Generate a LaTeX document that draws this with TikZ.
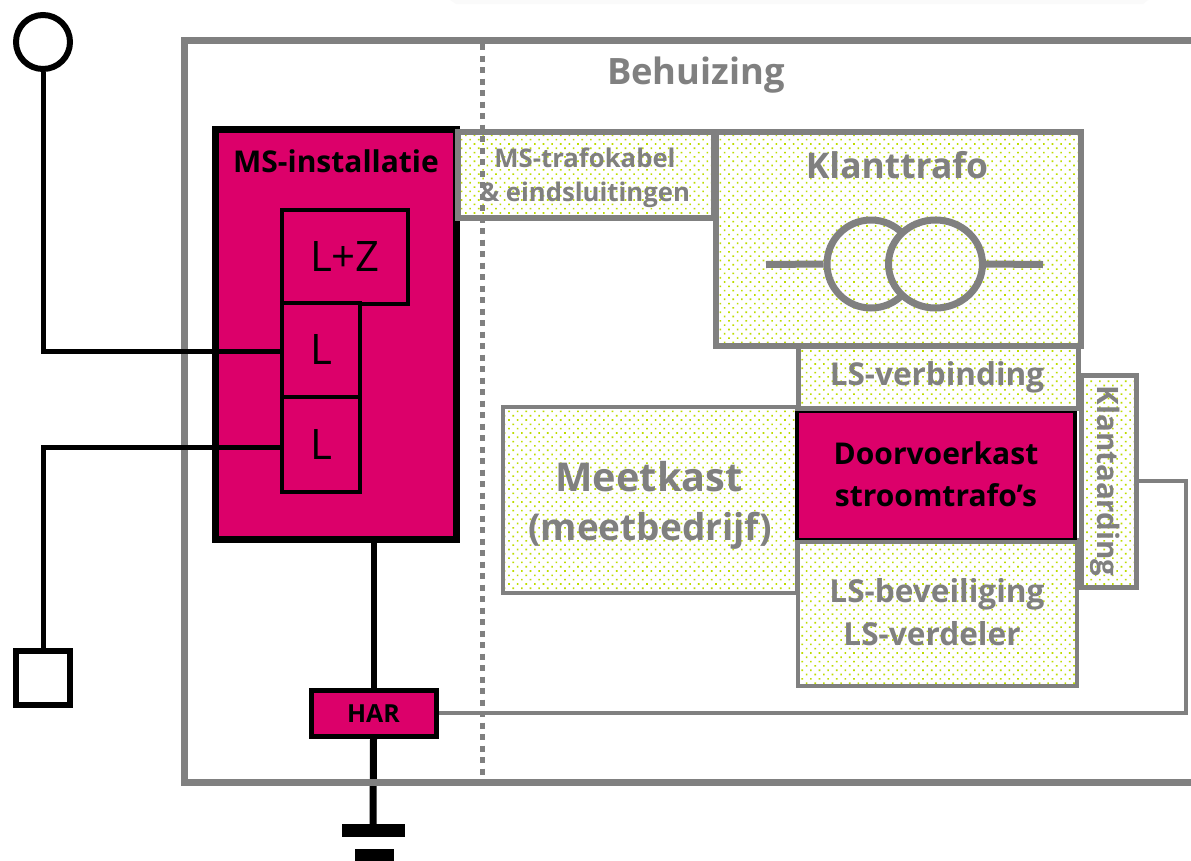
\documentclass[tikz,border=0pt]{standalone}
\usepackage{fontspec}
\setmainfont{Open Sans}
\usetikzlibrary{patterns.meta,shapes.geometric}
\definecolor{pk}{HTML}{DC006A}
\definecolor{gy}{HTML}{808080}
\definecolor{dt}{HTML}{BEDC00}
\tikzset{
 x=1pt,y=-1pt,
 wire/.style={draw=black,line width=5pt,line join=miter},
 gwire/.style={draw=gy,line width=4pt},
 dotbox/.style={draw=gy,line width=5pt,preaction={fill=white},pattern={Dots[distance=6.1pt,angle=45,radius=1.15pt]},pattern color=dt},
 pinkbox/.style={draw=black,fill=pk,line width=4pt},
 lab/.style={font=\bfseries,text=gy,align=center,inner sep=0pt},
 blab/.style={font=\bfseries,text=black,align=center,inner sep=0pt},
}
\begin{document}
\begin{tikzpicture}
\useasboundingbox (0,0) rectangle (1191,860);
\fill[fill=white] (0,0) rectangle (1191,860);
\fill[fill=black!2!white] (450,0) -- (1148,0) -- (1143,4) -- (456,4) -- cycle;
% housing
\draw[draw=gy,line width=7pt] (1195,40) -- (184,40) -- (184,782) -- (1195,782);
\node[lab,font=\bfseries\fontsize{36.3}{40}\selectfont] (beh) at (696,75) {Behuizing};
% mains wires
\node[draw=black,line width=6pt,circle,minimum size=54pt,inner sep=0pt] (top) at (43,42) {};
\node[draw=black,line width=6pt,minimum size=54pt,inner sep=0pt] (sq) at (43,678) {};
% MS installation
\node[pinkbox,line width=7pt,minimum width=241pt,minimum height=410pt,inner sep=0pt] (ms) at (336,334.5) {};
\node[blab,font=\bfseries\fontsize{30}{34}\selectfont] (mst) at (336,161) {MS-installatie};
\node[pinkbox,minimum width=126pt,minimum height=94pt,inner sep=0pt,font=\fontsize{42}{46}\selectfont] (lz) at (345,257) {L+Z};
\node[pinkbox,minimum width=78pt,minimum height=94pt,inner sep=0pt,font=\fontsize{42}{46}\selectfont] (l1) at (321,350) {L};
\node[pinkbox,minimum width=78pt,minimum height=95pt,inner sep=0pt,font=\fontsize{42}{46}\selectfont] (l2) at (321,444.5) {L};
\coordinate (c1) at (43,351);
\coordinate (c2) at (43,447);
\draw[wire] (top.south) -- (c1) -- (l1.west |- c1);
\draw[wire] (sq.north) -- (c2) -- (l2.west |- c2);
% dotted boxes
\node[dotbox,line width=6pt,minimum width=256pt,minimum height=86pt,inner sep=0pt] (kab) at (586,175) {};
\draw[draw=gy,dash pattern=on 6pt off 5.5pt,line width=5pt] (482,44) -- (482,779);
\node[lab,font=\bfseries\fontsize{25.7}{34}\selectfont] (kabt) at (585,178) {MS-trafokabel\\\& eindsluitingen};
\node[dotbox,line width=6pt,minimum width=365pt,minimum height=214pt,inner sep=0pt] (kt) at (898.5,239) {};
\node[lab,font=\bfseries\fontsize{35.4}{40}\selectfont] (ktt) at (897,165) {Klanttrafo};
\node[dotbox,minimum width=280pt,minimum height=62pt,inner sep=0pt] (lsv) at (938,377) {};
\node[lab,font=\bfseries\fontsize{31.5}{36}\selectfont] (lsvt) at (937,377) {LS-verbinding};
\node[dotbox,minimum width=55pt,minimum height=212pt,inner sep=0pt] (aard) at (1108.5,481) {};
\node[lab,rotate=-90,font=\bfseries\fontsize{29.5}{34}\selectfont] (aardt) at (1105,481) {Klantaarding};
\node[dotbox,line width=4pt,minimum width=294pt,minimum height=186pt,inner sep=0pt] (mk) at (650,500) {};
\node[lab,font=\bfseries\fontsize{39.7}{44}\selectfont] (mkt) at (649,477) {Meetkast};
\node[lab,font=\bfseries\fontsize{37}{42}\selectfont] (mkb) at (650,531) {(meetbedrijf)};
\node[dotbox,line width=4pt,minimum width=279pt,minimum height=146pt,inner sep=0pt] (lsb) at (937,612.5) {};
\node[lab,font=\bfseries\fontsize{31.6}{43}\selectfont] (lsbt) at (937,594) {LS-beveiliging};
\node[lab,font=\bfseries\fontsize{31.6}{43}\selectfont] (lsvd) at (932,634) {LS-verdeler};
% pass-through box
\node[pinkbox,minimum width=278pt,minimum height=129pt,inner sep=0pt] (dv) at (936,475) {};
\draw[draw=gy,line width=5pt] (dv.north west) -- (dv.north east);
\draw[draw=gy,line width=4pt] (dv.south west) -- (dv.south east);
\node[blab,font=\bfseries\fontsize{30}{42}\selectfont] (dvt) at (936,474) {Doorvoerkast\\stroomtrafo’s};
% transformer
\node[draw=gy,line width=7pt,circle,minimum size=88pt,inner sep=0pt] (t1) at (871,264) {};
\node[dotbox,line width=7pt,ellipse,minimum width=94pt,minimum height=88pt,inner sep=0pt] (t2) at (935.5,264) {};
\coordinate (tl) at (766,264.5);
\coordinate (tr) at (1043,264.5);
\draw[draw=gy,line width=7pt] (tl) -- (t1.west);
\draw[draw=gy,line width=7pt] (t2.east) -- (tr);
% earth path
\node[pinkbox,line width=5pt,minimum width=125pt,minimum height=46pt,inner sep=0pt,font=\bfseries\fontsize{24.9}{28}\selectfont] (har) at (373.5,713.5) {HAR};
\draw[draw=black,line width=6pt] (ms.south -| har.north) -- (har.north);
\coordinate (e1) at (373,824);
\draw[draw=black,line width=7pt] (har.south) -- (e1);
\draw[draw=gy,line width=7pt] (340,782) -- (410,782);
\coordinate (g1a) at (342,830.5);
\coordinate (g1b) at (405,830.5);
\coordinate (g2a) at (355,855);
\coordinate (g2b) at (394,855);
\draw[draw=black,line width=13pt] (g1a) -- (g1b);
\draw[draw=black,line width=12pt] (g2a) -- (g2b);
\coordinate (a1) at (1186,481);
\coordinate (a2) at (1186,713);
\draw[gwire] (aard.east |- a1) -- (a1) -- (a2) -- (har.east |- a2);
\end{tikzpicture}
\end{document}
